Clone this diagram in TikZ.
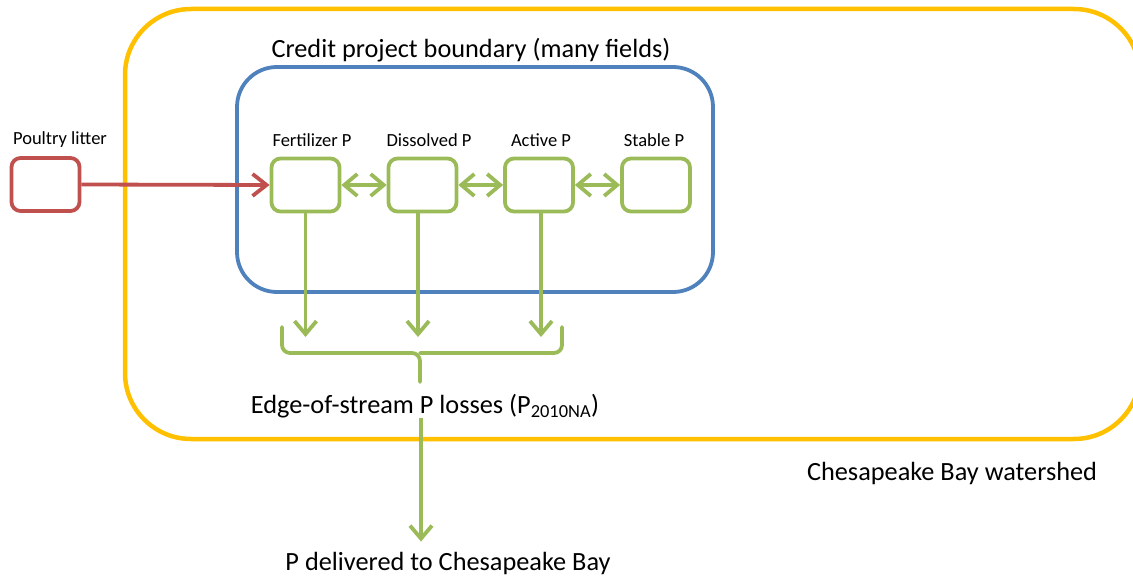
\documentclass[tikz,border=0pt]{standalone}
\usepackage{fontspec}
\setmainfont{Carlito}
\usetikzlibrary{arrows.meta}
\definecolor{cyellow}{HTML}{FFC000}
\definecolor{cblue}{HTML}{4F81BD}
\definecolor{cgreen}{HTML}{9BBB59}
\definecolor{cred}{HTML}{C0504D}
\tikzset{
  gtip/.tip={Straight Barb[length=13pt,width=22pt,line width=3.8pt]},
  rtip/.tip={Straight Barb[length=14pt,width=22pt,line width=3.8pt]},
  pbox/.style={draw=cgreen, line width=3.8pt, rounded corners=9pt, minimum width=68pt, minimum height=53pt, inner sep=0pt},
  rbox/.style={pbox, draw=cred},
  small/.style={font=\fontsize{18.5}{22}\selectfont, inner sep=0pt},
  big/.style={font=\fontsize{26.3}{31}\selectfont, inner sep=0pt},
  garrow/.style={draw=cgreen, line width=3.8pt, -{gtip}},
  gdarrow/.style={draw=cgreen, line width=3.8pt, {gtip}-{gtip}},
  rarrow/.style={draw=cred, line width=3.8pt, -{rtip}},
}
\begin{document}
\begin{tikzpicture}[x=1pt,y=-1pt]
\clip (0,0) rectangle (1133,580);
\useasboundingbox (0,0) rectangle (1133,580);
% watershed box
\draw[cyellow, line width=4.5pt, rounded corners=66pt] (125,9) rectangle (1140,439);
% credit boundary
\draw[cblue, line width=3.8pt, rounded corners=40pt] (237,67) rectangle (713,292);
\node[big] (cpb) at (471,50) {Credit project boundary (many fields)};
\node[big] (ws) at (952,473) {Chesapeake Bay watershed};
% boxes
\node[rbox] (lit) at (45.5,184.5) {};
\node[pbox] (fert) at (305.5,185) {};
\node[pbox] (diss) at (422.5,185) {};
\node[pbox] (act) at (539,185) {};
\node[pbox] (stab) at (656,185) {};
\node[small] (litl) at (60,140) {Poultry litter};
\node[small] (fertl) at (312,140) {Fertilizer P};
\node[small] (dissl) at (429,140) {Dissolved P};
\node[small] (actl) at (541,140) {Active P};
\node[small] (stabl) at (654,140) {Stable P};
% arrows
\draw[rarrow] (lit.east) -- (fert.west);
\draw[gdarrow] (fert.east) -- (diss.west);
\draw[gdarrow] (diss.east) -- (act.west);
\draw[gdarrow] (act.east) -- (stab.west);
\coordinate (e1) at (305.5,337);
\coordinate (e2) at (418,337);
\coordinate (e3) at (541,337);
\draw[garrow] (fert.south) -- (fert.south |- e1);
\draw[garrow] (diss.south -| e2) -- (e2);
\draw[garrow] (act.south -| e3) -- (e3);
% brace
\draw[cgreen, line width=3.8pt, line cap=round, rounded corners=8pt]
  (282,327) -- (282,353) -- (420,353) -- (420,382);
\draw[cgreen, line width=3.8pt, line cap=round, rounded corners=8pt]
  (562,327) -- (562,353) -- (420,353);
\node[big] (edge) at (425,406) {Edge-of-stream P losses (P\textsubscript{2010NA})};
\node[big] (deliv) at (448,563) {P delivered to Chesapeake Bay};
\coordinate (mid) at (421,0);
\draw[garrow] (edge.south -| mid) -- ([yshift=10pt]deliv.north -| mid);
\end{tikzpicture}
\end{document}
